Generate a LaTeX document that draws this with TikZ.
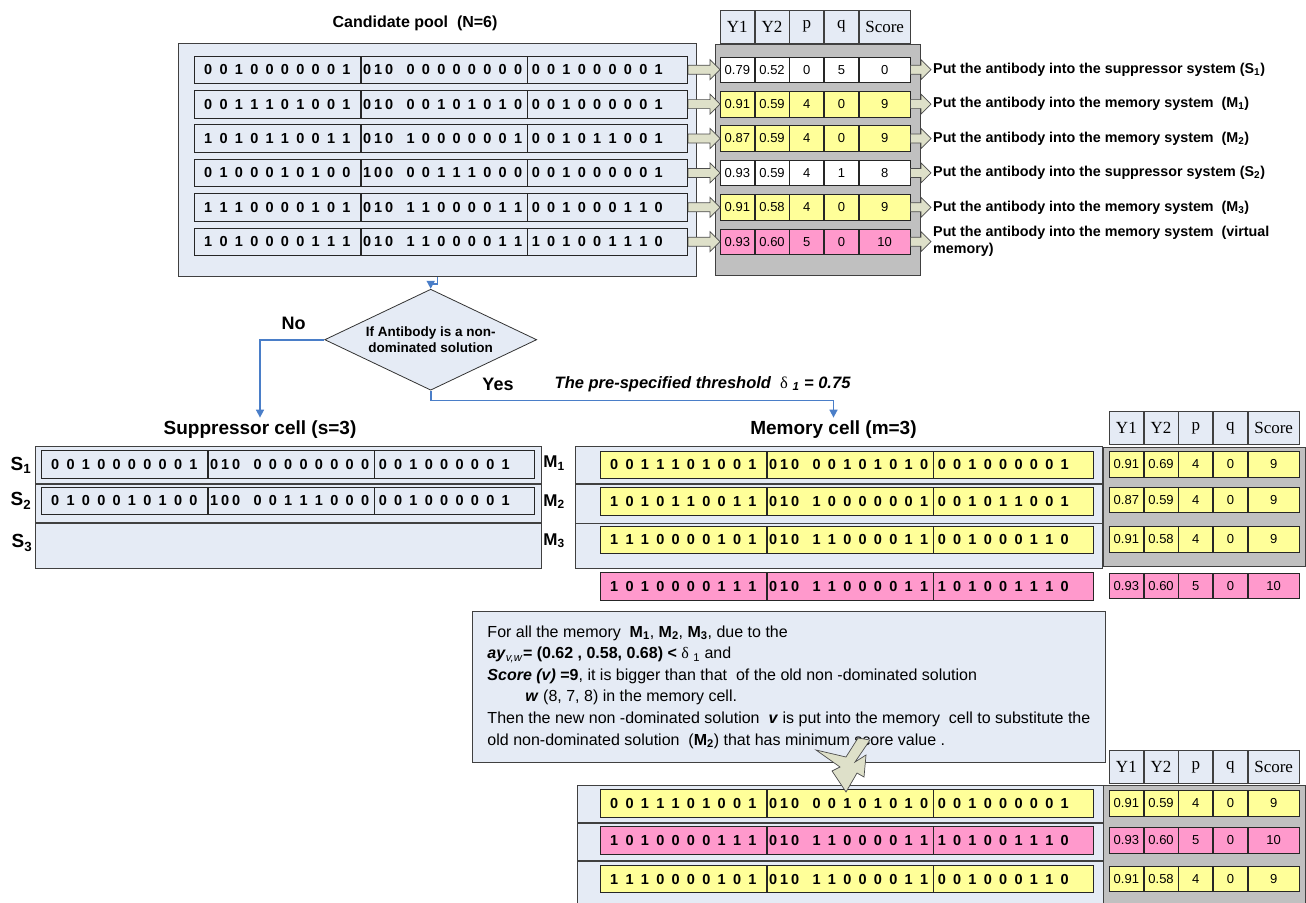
\documentclass[tikz,border=0pt]{standalone}
\usepackage{fontspec}
\setmainfont{Liberation Sans}
\newfontfamily\serifhdr{Liberation Serif}
\usetikzlibrary{positioning, arrows.meta, shapes.geometric, calc}

\definecolor{paleblue}{HTML}{E5EBF5}
\definecolor{boxgrey}{HTML}{C0C0C0}
\definecolor{lemon}{HTML}{FFFF99}
\definecolor{rose}{HTML}{FF99CC}
\definecolor{khaki}{HTML}{DEE0C9}
\definecolor{flowblue}{HTML}{4A7EC8}

\newcommand{\bitsp}{\spaceskip=7.3pt\relax}
\newcommand{\tri}[3]{#1\kern3pt#2\kern3pt#3\hspace{6pt}}
\newcommand{\bitrow}[6]{%
  \node[bitseg, fill=#3, text width=154pt, inner xsep=6pt, align=center] (#1a) at #2 {\bitsp #4};
  \node[bitseg, fill=#3, text width=162pt, inner xsep=2pt, align=left] (#1b) at (#1a.east) {\bitsp #5};
  \node[bitseg, fill=#3, text width=152pt, inner xsep=4pt, align=left] (#1c) at (#1b.east) {\bitsp #6};
}
\newcommand{\valrow}[8]{%
  \node[valcell, fill=#3] (#11) at #2 {#4};
  \node[valcell, fill=#3] (#12) at (#11.east) {#5};
  \node[valcell, fill=#3] (#13) at (#12.east) {#6};
  \node[valcell, fill=#3] (#14) at (#13.east) {#7};
  \node[valcell, fill=#3, minimum width=51pt] (#15) at (#14.east) {#8};
}
\newcommand{\hdrrow}[2]{%
  \node[hdrcell] (#11) at #2 {Y1};
  \node[hdrcell] (#12) at (#11.east) {Y2};
  \node[hdrcell] (#13) at (#12.east) {p};
  \node[hdrcell] (#14) at (#13.east) {q};
  \node[hdrcell, minimum width=51pt] (#15) at (#14.east) {Score};
}
\newcommand{\barrow}[2]{%
  \path[blockarrow] let \p1=(#1.east), \p2=(#2.west) in
    (\x1,\y1+4.5pt) -- (\x2-10pt,\y1+4.5pt) -- (\x2-10pt,\y1+10pt) -- (\x2,\y1)
    -- (\x2-10pt,\y1-10pt) -- (\x2-10pt,\y1-4.5pt) -- (\x1,\y1-4.5pt) -- cycle;
}

\begin{document}
\begin{tikzpicture}[
    x=1pt, y=-1pt,
    cellbox/.style={rectangle, draw=black!75, fill=paleblue, anchor=north west,
                    inner sep=0pt, line width=0.8pt},
    greybox/.style={rectangle, draw=black!75, fill=boxgrey, anchor=north west,
                    inner sep=0pt, line width=0.8pt},
    bitseg/.style={rectangle, draw=black!85, anchor=west, minimum height=27.5pt,
                   inner ysep=0pt, line width=0.7pt,
                   font=\bfseries\fontsize{14.5}{16}\selectfont},
    valcell/.style={rectangle, draw=black!85, anchor=west, minimum width=34pt,
                    minimum height=25.5pt, inner sep=0pt, line width=0.7pt,
                    font=\fontsize{13}{15}\selectfont},
    hdrcell/.style={rectangle, draw=black!75, fill=paleblue, anchor=west,
                    minimum width=34pt, minimum height=33pt, inner sep=0pt,
                    line width=0.7pt, font=\serifhdr\fontsize{17}{19}\selectfont},
    blockarrow/.style={draw=black!70, fill=khaki, line width=0.7pt},
    puttext/.style={anchor=west, inner sep=2pt, align=left,
                    font=\bfseries\fontsize{14.3}{17}\selectfont},
    heading/.style={font=\bfseries\fontsize{19}{22}\selectfont},
    rowlabel/.style={font=\bfseries\fontsize{19}{22}\selectfont, inner sep=0pt},
    decision/.style={diamond, aspect=2.1, draw=black!80, fill=paleblue,
                     minimum width=212pt, minimum height=101pt, inner sep=0pt,
                     align=center, line width=0.8pt,
                     font=\bfseries\fontsize{13.5}{16.6}\selectfont},
    flow/.style={draw=flowblue, line width=1.6pt,
                 -{Triangle[length=8pt, width=8pt]}},
    notebox/.style={rectangle, draw=black!75, fill=paleblue, align=left,
                    inner xsep=12pt, line width=0.8pt,
                    font=\fontsize{16}{21.6}\selectfont},
]
\useasboundingbox (0,0) rectangle (1306,902);

\node[heading, font=\bfseries\fontsize{16}{19}\selectfont] (pooltitle) at (415,23) {Candidate pool~ (N=6)};
\node[cellbox, minimum width=518pt, minimum height=233pt] (pool) at (178,43) {};
\node[greybox, minimum width=205pt, minimum height=231pt] (tgrey) at (715,44) {};
\hdrrow{th}{(720,26.7)}

\bitrow{p1}{(194,69.7)}{paleblue}{0 0 1 0 0 0 0 0 0 1}{\tri010 0 0 0 0 0 0 0 0}{0 0 1 0 0 0 0 0 1}
\bitrow{p2}{(194,104.1)}{paleblue}{0 0 1 1 1 0 1 0 0 1}{\tri010 0 0 1 0 1 0 1 0}{0 0 1 0 0 0 0 0 1}
\bitrow{p3}{(194,138.5)}{paleblue}{1 0 1 0 1 1 0 0 1 1}{\tri010 1 0 0 0 0 0 0 1}{0 0 1 0 1 1 0 0 1}
\bitrow{p4}{(194,172.9)}{paleblue}{0 1 0 0 0 1 0 1 0 0}{\tri100 0 0 1 1 1 0 0 0}{0 0 1 0 0 0 0 0 1}
\bitrow{p5}{(194,207.3)}{paleblue}{1 1 1 0 0 0 0 1 0 1}{\tri010 1 1 0 0 0 0 1 1}{0 0 1 0 0 0 1 1 0}
\bitrow{p6}{(194,241.7)}{paleblue}{1 0 1 0 0 0 0 1 1 1}{\tri010 1 1 0 0 0 0 1 1}{1 0 1 0 0 1 1 1 0}

\valrow{t1}{(720,69.7)}{white}{0.79}{0.52}{0}{5}{0}
\valrow{t2}{(720,104.1)}{lemon}{0.91}{0.59}{4}{0}{9}
\valrow{t3}{(720,138.5)}{lemon}{0.87}{0.59}{4}{0}{9}
\valrow{t4}{(720,172.9)}{white}{0.93}{0.59}{4}{1}{8}
\valrow{t5}{(720,207.3)}{lemon}{0.91}{0.58}{4}{0}{9}
\valrow{t6}{(720,241.7)}{rose}{0.93}{0.60}{5}{0}{10}

\node[puttext] (put1) at (931,69.7) {Put the antibody into the suppressor system (S\textsubscript{1})};
\node[puttext] (put2) at (931,104.1) {Put the antibody into the memory system~ (M\textsubscript{1})};
\node[puttext] (put3) at (931,138.5) {Put the antibody into the memory system~ (M\textsubscript{2})};
\node[puttext] (put4) at (931,172.9) {Put the antibody into the suppressor system (S\textsubscript{2})};
\node[puttext] (put5) at (931,207.3) {Put the antibody into the memory system~ (M\textsubscript{3})};
\node[puttext] (put6) at (931,241.7) {Put the antibody into the memory system~ (virtual\\memory)};

\barrow{p1c}{t11}
\barrow{p2c}{t21}
\barrow{p3c}{t31}
\barrow{p4c}{t41}
\barrow{p5c}{t51}
\barrow{p6c}{t61}
\barrow{t15}{put1}
\barrow{t25}{put2}
\barrow{t35}{put3}
\barrow{t45}{put4}
\barrow{t55}{put5}
\barrow{t65}{put6}

\node[decision] (dia) at (430.7,339.7) {If Antibody is a non-\\dominated solution};
\node[heading, font=\bfseries\fontsize{18}{21}\selectfont] (no) at (293.5,323.3) {No};
\node[heading, font=\bfseries\fontsize{18}{21}\selectfont] (yes) at (498,384) {Yes};
\node[anchor=west, inner sep=0pt, font=\bfseries\itshape\fontsize{16.5}{19}\selectfont] (thr) at (554.5,384)
  {The pre-specified threshold~ {\serifhdr\upshape\mdseries δ}~\textsubscript{1} = 0.75};

\node[heading] (suptitle) at (260,430) {Suppressor cell (s=3)};
\node[heading] (memtitle) at (833.5,430) {Memory cell (m=3)};

\draw[flow] (pool.south) -- ++(0,7) -| (dia.north);
\draw[flow] (dia.west) -| (suptitle.north);
\draw[flow] (dia.south) -- ++(0,10) -| (memtitle.north);

\node[cellbox, minimum width=506pt, minimum height=37.3pt] (sup1) at (35,446) {};
\node[cellbox, minimum width=506pt, minimum height=37.7pt] (sup2) at (sup1.south west) {};
\node[cellbox, minimum width=506pt, minimum height=45pt] (sup3) at (sup2.south west) {};
\bitrow{sr1}{(41,464.5)}{paleblue}{0 0 1 0 0 0 0 0 0 1}{\tri010 0 0 0 0 0 0 0 0}{0 0 1 0 0 0 0 0 1}
\bitrow{sr2}{(41,501)}{paleblue}{0 1 0 0 0 1 0 1 0 0}{\tri100 0 0 1 1 1 0 0 0}{0 0 1 0 0 0 0 0 1}
\node[rowlabel] (sl1) at (21,465) {S\textsubscript{1}};
\node[rowlabel] (sl2) at (21,501) {S\textsubscript{2}};
\node[rowlabel] (sl3) at (22,543) {S\textsubscript{3}};

\node[cellbox, minimum width=527pt, minimum height=36.7pt] (mem1) at (575,446) {};
\node[cellbox, minimum width=527pt, minimum height=39pt] (mem2) at (mem1.south west) {};
\node[cellbox, minimum width=527pt, minimum height=44.3pt] (mem3) at (mem2.south west) {};
\bitrow{mr1}{(600,464.7)}{lemon}{0 0 1 1 1 0 1 0 0 1}{\tri010 0 0 1 0 1 0 1 0}{0 0 1 0 0 0 0 0 1}
\bitrow{mr2}{(600,501.3)}{lemon}{1 0 1 0 1 1 0 0 1 1}{\tri010 1 0 0 0 0 0 0 1}{0 0 1 0 1 1 0 0 1}
\bitrow{mr3}{(600,540)}{lemon}{1 1 1 0 0 0 0 1 0 1}{\tri010 1 1 0 0 0 0 1 1}{0 0 1 0 0 0 1 1 0}
\bitrow{vr}{(600,586.3)}{rose}{1 0 1 0 0 0 0 1 1 1}{\tri010 1 1 0 0 0 0 1 1}{1 0 1 0 0 1 1 1 0}
\node[rowlabel, font=\bfseries\fontsize{17}{20}\selectfont] (ml1) at (554,463.3) {M\textsubscript{1}};
\node[rowlabel, font=\bfseries\fontsize{17}{20}\selectfont] (ml2) at (554,501.7) {M\textsubscript{2}};
\node[rowlabel, font=\bfseries\fontsize{17}{20}\selectfont] (ml3) at (554,540.7) {M\textsubscript{3}};

\node[greybox, minimum width=202pt, minimum height=119.5pt] (mgrey) at (1103,446.5) {};
\hdrrow{mh}{(1109,428)}
\valrow{mt1}{(1109,464.5)}{lemon}{0.91}{0.69}{4}{0}{9}
\valrow{mt2}{(1109,500)}{lemon}{0.87}{0.59}{4}{0}{9}
\valrow{mt3}{(1109,539.2)}{lemon}{0.91}{0.58}{4}{0}{9}
\valrow{vt}{(1109,586)}{rose}{0.93}{0.60}{5}{0}{10}

\node[cellbox, minimum width=526pt, minimum height=36.7pt] (new1) at (577,785) {};
\node[cellbox, minimum width=526pt, minimum height=37.6pt] (new2) at (new1.south west) {};
\node[cellbox, minimum width=526pt, minimum height=46pt] (new3) at (new2.south west) {};
\bitrow{nr1}{(600,803.3)}{lemon}{0 0 1 1 1 0 1 0 0 1}{\tri010 0 0 1 0 1 0 1 0}{0 0 1 0 0 0 0 0 1}
\bitrow{nr2}{(600,840.5)}{rose}{1 0 1 0 0 0 0 1 1 1}{\tri010 1 1 0 0 0 0 1 1}{1 0 1 0 0 1 1 1 0}
\bitrow{nr3}{(600,879)}{lemon}{1 1 1 0 0 0 0 1 0 1}{\tri010 1 1 0 0 0 0 1 1}{0 0 1 0 0 0 1 1 0}

\node[greybox, minimum width=202pt, minimum height=121pt] (ngrey) at (1103,785) {};
\hdrrow{nh}{(1109,767)}
\valrow{nt1}{(1109,803.3)}{lemon}{0.91}{0.59}{4}{0}{9}
\valrow{nt2}{(1109,840.5)}{rose}{0.93}{0.60}{5}{0}{10}
\valrow{nt3}{(1109,879)}{lemon}{0.91}{0.58}{4}{0}{9}

\node[notebox, anchor=north west, minimum width=633pt, minimum height=151pt] (note) at (472,611)
  {For all the memory~ \textbf{M\textsubscript{1}}, \textbf{M\textsubscript{2}}, \textbf{M\textsubscript{3}}, due to the\\
   \textbf{\textit{ay}}\textsubscript{\textit{v,w}}\textbf{= (0.62 , 0.58, 0.68) <} {\serifhdr δ}~\textsubscript{1} and\\
   \textbf{\textit{Score (v)}} \textbf{=9}, it is bigger than that~ of the old non -dominated solution\\
   \hspace*{38pt}\textbf{\textit{w}} (8, 7, 8) in the memory cell.\\
   Then the new non -dominated solution~ \textbf{\textit{v}} is put into the memory~ cell to substitute the\\
   old non-dominated solution~ (\textbf{M\textsubscript{2}}) that has minimum score value .};

\filldraw[blockarrow] (858,738) -- (846,757) -- (816,750) -- (840,767) -- (832,771)
  -- (846,792) -- (857,773) -- (864,777) -- (866,755) -- (855,762) -- (870,740) -- cycle;
\end{tikzpicture}
\end{document}
